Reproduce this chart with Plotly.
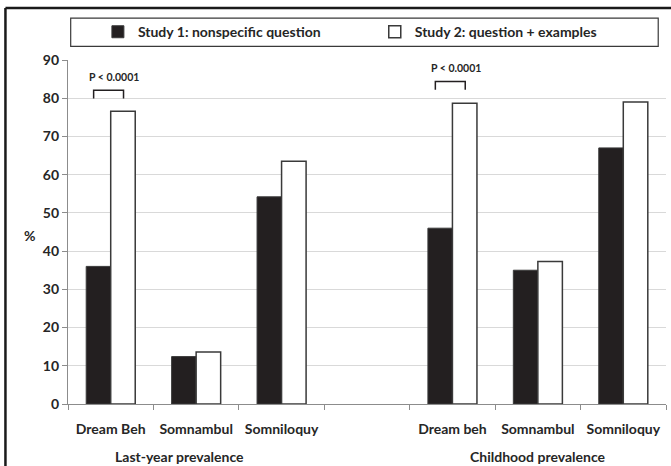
import plotly.graph_objects as go

# ---- data ----
categories = ["Dream Beh", "Somnambul", "Somniloquy", "", "Dream beh", "Somnambul", "Somniloquy"]
groups = ["Last-year prevalence", "Childhood prevalence"]
group_label_x = [0.8, 5.0]
study1 = [36.0, 12.4, 54.2, None, 46.0, 35.0, 67.0]
study2 = [76.6, 13.6, 63.5, None, 78.7, 37.3, 79.0]
series_names = ["Study 1: nonspecific question", "Study 2: question + examples"]
sig_index = [0, 4]
sig_label = "P < 0.0001"
y_ticks = [0, 10, 20, 30, 40, 50, 60, 70, 80, 90]
y_title = "%"

FONT = "Lato"
TXT = "#262626"
xpos = list(range(len(categories)))

fig = go.Figure()
fig.add_trace(go.Bar(x=xpos, y=study1, name=f"<b>{series_names[0]}</b>", legend="legend",
                     marker=dict(color="#231f20", line=dict(color="#3a3a3a", width=1))))
fig.add_trace(go.Bar(x=xpos, y=study2, name=f"<b>{series_names[1]}</b>", legend="legend2",
                     marker=dict(color="white", line=dict(color="#3a3a3a", width=1.5))))

# significance brackets
for k, i in enumerate(sig_index):
    top = study2[i] + (5.5 if k == 0 else 5.7)
    x0, x1 = i - 0.2, i + 0.15
    fig.add_shape(type="path", xref="x", yref="y",
                  path=f"M {x0},{top-2.2} L {x0},{top} L {x1},{top} L {x1},{top-2.2}",
                  line=dict(color="#231f20", width=1.5))
    fig.add_annotation(x=i + 0.04, y=top + 3.5, xref="x", yref="y", text=f"<b>{sig_label}</b>",
                       showarrow=False, font=dict(family=FONT, size=10.5, color=TXT))

# group labels
for g, gx in zip(groups, group_label_x):
    fig.add_annotation(x=gx, y=0, xref="x", yref="paper",
                       yshift=-63, text=f"<b>{g}</b>", showarrow=False,
                       font=dict(family=FONT, size=14, color=TXT))

# upright y-axis title
fig.add_annotation(x=-0.077, y=0.49, xref="paper", yref="paper", text=f"<b>{y_title}</b>",
                   showarrow=False, textangle=0, font=dict(family=FONT, size=14, color=TXT))

# outer frame (left + top) and legend box
fig.add_shape(type="line", xref="paper", yref="paper", x0=-0.1046, x1=-0.1046, y0=-0.3, y1=1.151,
              line=dict(color="#1a1a1a", width=2.5))
fig.add_shape(type="line", xref="paper", yref="paper", x0=-0.1046, x1=1.05, y0=1.151, y1=1.151,
              line=dict(color="#1a1a1a", width=2.5))
fig.add_shape(type="rect", xref="paper", yref="paper", x0=0.0045, x1=0.987, y0=1.0395, y1=1.122,
              line=dict(color="#3a3a3a", width=1.2), fillcolor="rgba(0,0,0,0)")

leg_common = dict(orientation="h", xanchor="left", y=1.081, yanchor="middle",
                  font=dict(family=FONT, size=14, color=TXT), bgcolor="rgba(0,0,0,0)",
                  itemclick=False, itemdoubleclick=False)
fig.update_layout(
    width=671, height=466,
    margin=dict(l=68, r=5, t=60, b=62),
    paper_bgcolor="white", plot_bgcolor="white",
    barmode="group", bargap=0.426, bargroupgap=0,
    font=dict(family=FONT, size=14, color=TXT),
    legend=dict(x=0.05, **leg_common),
    legend2=dict(x=0.513, **leg_common),
    showlegend=True,
)
fig.update_xaxes(
    range=[-0.5, len(categories) - 0.5],
    tickmode="array", tickvals=xpos, ticktext=[f"<b>{c}</b>" for c in categories],
    ticks="", ticklen=0, ticklabelstandoff=12, tickfont=dict(family=FONT, size=14, color=TXT),
    showline=True, linecolor="#8c8c8c", linewidth=1.2, showgrid=False, zeroline=False,
    minor=dict(tickmode="array", tickvals=[p - 0.5 for p in xpos] + [len(categories) - 0.5],
               ticks="outside", ticklen=5, tickcolor="#8c8c8c", tickwidth=1, showgrid=False),
)
fig.update_yaxes(
    range=[0, 90], tickmode="array", tickvals=y_ticks, ticktext=[f"<b>{v}</b>" for v in y_ticks],
    tickfont=dict(family=FONT, size=14, color=TXT),
    ticks="outside", ticklen=5, tickcolor="#8c8c8c",
    showline=True, linecolor="#8c8c8c", linewidth=1.2,
    showgrid=True, gridcolor="#d9d9d9", gridwidth=1.3, zeroline=False,
)

fig.write_html("out.html", config={"displayModeBar": False},
               post_script="document.body.style.margin='0';document.body.style.padding='0';")
